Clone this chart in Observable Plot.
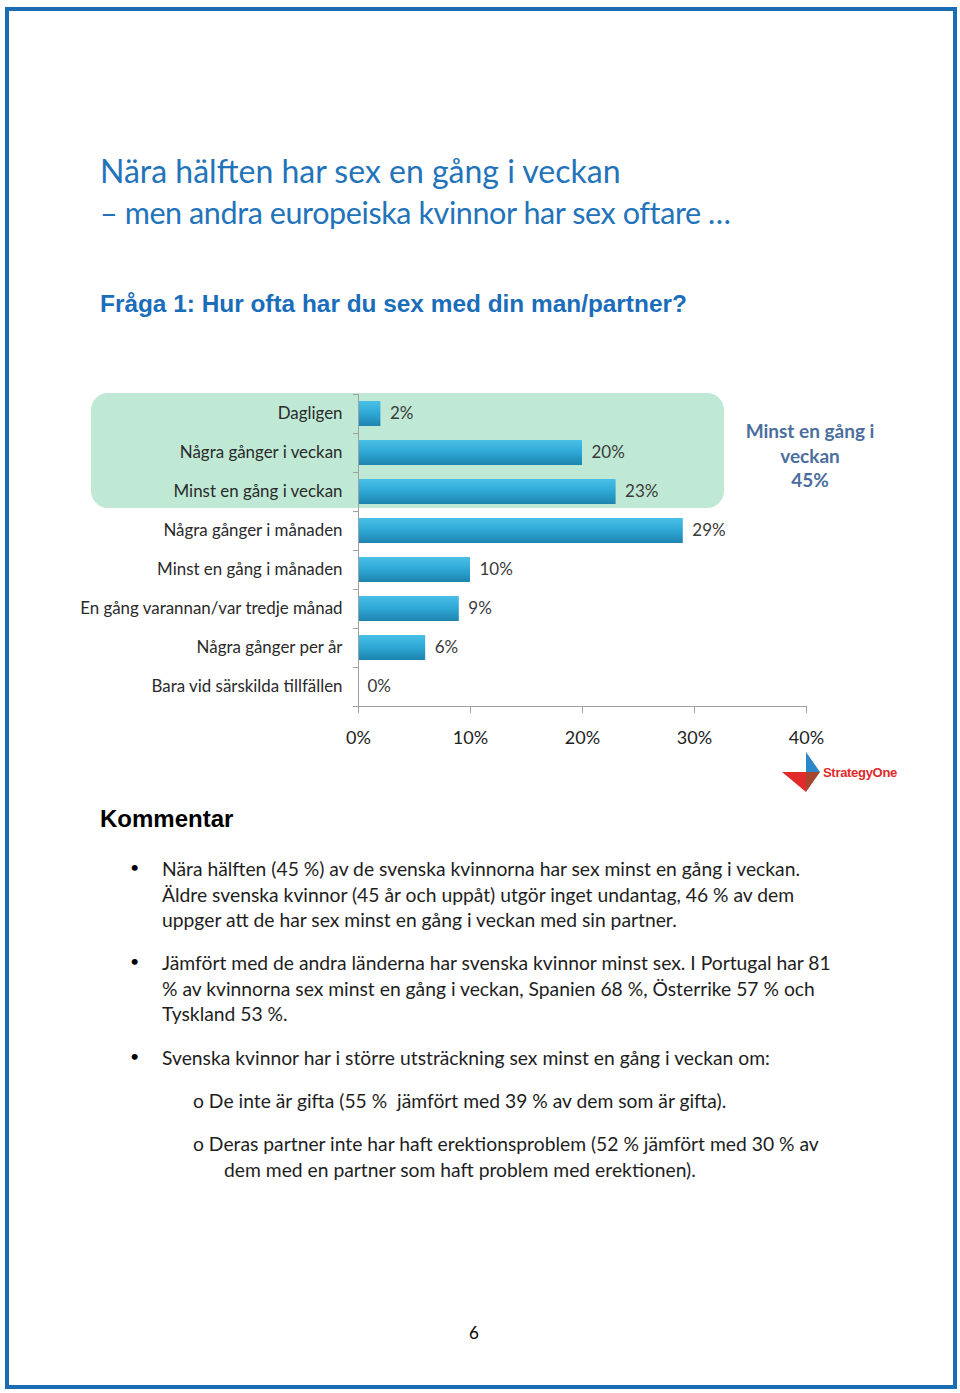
<!DOCTYPE html>
<html><head><meta charset="utf-8">
<script src="https://cdn.jsdelivr.net/npm/d3@7"></script>
<script src="https://cdn.jsdelivr.net/npm/@observablehq/plot@0.6"></script>
<style>
html,body{margin:0;padding:0;background:#fff;}
#page{position:relative;width:960px;height:1393px;overflow:hidden;font-family:Lato,"Open Sans",sans-serif;}
.abs{position:absolute;white-space:nowrap;}
#border{position:absolute;left:5px;top:7px;width:944px;height:1374px;border:4px solid #1b6db3;}
.t1{left:100px;font-size:32px;color:#2273b9;line-height:1;}
#q{left:100px;top:290px;font-family:"Liberation Sans Narrow","Liberation Sans",Arial,sans-serif;font-weight:bold;font-size:24.4px;color:#1a6dba;}
#green{position:absolute;left:91px;top:393px;width:633px;height:115px;border-radius:17px;background:#bfe9d5;}
#chart{position:absolute;left:0;top:380px;}
#note{left:700px;width:220px;top:419px;text-align:center;font-size:19px;font-weight:bold;color:#4c6e9e;line-height:24.5px;white-space:normal;}
#komm{left:100px;top:805px;font-family:"Liberation Sans",Arial,sans-serif;font-weight:bold;font-size:24px;color:#000;}
.p{font-size:19.3px;color:#1e1e1e;line-height:25.5px;}
.b{font-size:16px;color:#000;}
</style></head>
<body>
<div id="page">
<div id="border"></div>
<div class="abs t1" style="top:155px;">Nära hälften har sex en gång i veckan</div>
<div class="abs t1" style="top:197px;font-size:30.5px;letter-spacing:-0.4px;">– men andra europeiska kvinnor har sex oftare …</div>
<div class="abs" id="q">Fråga 1: Hur ofta har du sex med din man/partner?</div>
<div id="green"></div>
<div id="chart"></div>
<div class="abs" id="note">Minst en gång i<br>veckan<br>45%</div>
<svg class="abs" style="left:778px;top:748px;" width="130" height="48">
  <polygon points="28,4 28,24 42,24" fill="#2a87c8"/>
  <polygon points="4,24 28,24 28,44" fill="#e12a2a"/>
  <polygon points="28,24 42,24 28,44" fill="#a8452e"/>
  <text x="45" y="29" font-family="Liberation Sans,Arial,sans-serif" font-weight="bold" font-size="13" fill="#e02a2a" letter-spacing="-0.3">StrategyOne</text>
</svg>
<div class="abs" id="komm">Kommentar</div>
<div class="abs b" style="left:130px;top:857px;">•</div>
<div class="abs p" style="left:162px;top:856px;">Nära hälften (45 %) av de svenska kvinnorna har sex minst en gång i veckan.<br>Äldre svenska kvinnor (45 år och uppåt) utgör inget undantag, 46 % av dem<br>uppger att de har sex minst en gång i veckan med sin partner.</div>
<div class="abs b" style="left:130px;top:951px;">•</div>
<div class="abs p" style="left:162px;top:950px;">Jämfört med de andra länderna har svenska kvinnor minst sex. I Portugal har 81<br>% av kvinnorna sex minst en gång i veckan, Spanien 68 %, Österrike 57 % och<br>Tyskland 53 %.</div>
<div class="abs b" style="left:130px;top:1046px;">•</div>
<div class="abs p" style="left:162px;top:1045px;">Svenska kvinnor har i större utsträckning sex minst en gång i veckan om:</div>
<div class="abs p" style="left:193px;top:1088px;">o De inte är gifta (55 %&nbsp; jämfört med 39 % av dem som är gifta).</div>
<div class="abs p" style="left:193px;top:1131px;">o Deras partner inte har haft erektionsproblem (52 % jämfört med 30 % av</div>
<div class="abs p" style="left:224px;top:1157px;">dem med en partner som haft problem med erektionen).</div>
<div class="abs" style="left:469px;top:1322px;font-size:17px;color:#000;">6</div>
</div>
<script>
const categories = ["Dagligen","Några gånger i veckan","Minst en gång i veckan","Några gånger i månaden","Minst en gång i månaden","En gång varannan/var tredje månad","Några gånger per år","Bara vid särskilda tillfällen"];
const values = [2,20,23,29,10,9,6,0];
const xTicks = [0,10,20,30,40];
const data = categories.map((c,i)=>({cat:c,value:values[i]}));

const PAD = 0.35;
const plot = Plot.plot({
  width:960, height:420,
  marginLeft:358, marginRight:154, marginTop:14, marginBottom:94,
  style:{background:"transparent",fontFamily:"Lato, sans-serif",overflow:"visible"},
  x:{domain:[0,40]},
  y:{domain:categories, paddingInner:PAD, paddingOuter:PAD/2},
  marks:[
    Plot.barX(data,{x:"value",y:"cat",fill:"url(#barGrad)",style:"filter:drop-shadow(1px 1.5px 1px rgba(0,0,0,0.35))"}),
    Plot.text(data,{x:"value",y:"cat",text:d=>d.value+"%",dx:9,textAnchor:"start",fontSize:17,fill:"#3a3a3a"}),
    Plot.ruleX([0],{stroke:"#a0a0a0",strokeWidth:1}),
    Plot.axisX({ticks:xTicks,tickFormat:d=>d+"%",tickSize:7,tickPadding:18,fontSize:18,stroke:"#a0a0a0",color:"#222",label:null}),
    Plot.axisY({tickSize:0,tickPadding:16,fontSize:16.9,color:"#2a2a2a",label:null})
  ]
});
document.getElementById("chart").appendChild(plot);

const svg = d3.select(plot);
const defs = svg.insert("defs",":first-child");
const g = defs.append("linearGradient").attr("id","barGrad").attr("x1",0).attr("x2",0).attr("y1",0).attr("y2",1);
g.append("stop").attr("offset","0%").attr("stop-color","#49c0e6");
g.append("stop").attr("offset","45%").attr("stop-color","#30aad8");
g.append("stop").attr("offset","100%").attr("stop-color","#1d85ae");

// axis line and band-boundary ticks from the library's scales
const xs = plot.scale("x"), ys = plot.scale("y");
const x0 = xs.apply(0), x1 = xs.apply(40);
const [r0, r1] = ys.range;
const step = (r1 - r0) / categories.length;
const ga = svg.append("g").attr("stroke","#a0a0a0").attr("stroke-width",1).attr("fill","none");
ga.append("line").attr("x1",x0).attr("x2",x1).attr("y1",Math.round(r1)+0.5).attr("y2",Math.round(r1)+0.5);
for(let i=0;i<=categories.length;i++){
  const yy = Math.round(r0+i*step)+0.5;
  ga.append("line").attr("x1",x0-5).attr("x2",x0).attr("y1",yy).attr("y2",yy);
}
</script>
</body></html>
